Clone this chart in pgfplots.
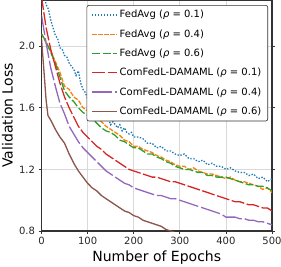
\documentclass[border=0pt]{standalone}
\usepackage{pgfplots}
\pgfplotsset{compat=1.18}
\usepackage{fontspec}
\setmainfont{DejaVu Sans}
\definecolor{c1}{HTML}{1F77B4}
\definecolor{c2}{HTML}{FF7F0E}
\definecolor{c3}{HTML}{2CA02C}
\definecolor{c4}{HTML}{D62728}
\definecolor{c5}{HTML}{9467BD}
\definecolor{c6}{HTML}{8C564B}
\begin{document}
\begin{tikzpicture}
\begin{axis}[name=ax,
  scale only axis, width=230.5pt, height=231pt,
  xmin=0, xmax=500, ymin=0.8, ymax=2.3,
  xtick={0,100,200,300,400,500}, xticklabels={0,100,200,300,400,500},
  ytick={0.8,1.2,1.6,2.0}, yticklabels={0.8,1.2,1.6,2.0},
  tick label style={font=\fontsize{10}{12}\selectfont, text=black!85},
  tick align=outside, major tick length=3pt,
  tick style={black!80, line width=0.8pt},
  xlabel={Number of Epochs}, ylabel={Validation Loss},
  label style={font=\fontsize{14}{16}\selectfont},
  xlabel style={at={(axis description cs:0.5,0)}, yshift=-27pt, anchor=center},
  ylabel style={at={(axis description cs:-0.1475,0.5)}, anchor=center},
  grid=major, grid style={gray!30, line width=0.7pt},
  axis line style={black!80, line width=1.6pt},
  legend style={at={(0.983,0.978)}, anchor=north east, draw=black!80, line width=0.6pt,
    rounded corners=2pt, font=\fontsize{10}{11.5}\selectfont, row sep=6.2pt,
    inner xsep=4.5pt, inner ysep=3pt},
  legend cell align=left,
  legend image code/.code={\draw[#1] (0pt,0pt) -- (25pt,0pt);},
  every axis plot/.append style={line width=1.3pt},
]
\addplot[c1, dash pattern=on 1.4pt off 1.6pt] coordinates {
(0,2.42)(5,2.36)(10,2.27)(15,2.24)(20,2.17)(25,2.12)(30,2.07)(35,2.05)(40,1.99)(45,1.98)
(50,1.94)(55,1.93)(60,1.89)(65,1.87)(70,1.85)(75,1.81)(80,1.84)(85,1.76)(90,1.72)(95,1.70)
(100,1.66)(105,1.68)(110,1.63)(115,1.62)(120,1.58)(125,1.59)(130,1.55)(135,1.56)(140,1.52)(145,1.53)
(150,1.49)(155,1.51)(160,1.49)(165,1.47)(170,1.49)(175,1.45)(180,1.47)(185,1.44)(190,1.43)(195,1.44)
(200,1.41)(210,1.41)(220,1.40)(230,1.37)(240,1.37)(250,1.34)(260,1.35)(270,1.32)(280,1.32)(290,1.30)
(300,1.29)(310,1.30)(320,1.27)(330,1.27)(340,1.25)(350,1.26)(360,1.23)(370,1.24)(380,1.22)(390,1.22)
(400,1.20)(410,1.21)(420,1.19)(430,1.18)(440,1.18)(450,1.16)(460,1.17)(470,1.14)(480,1.15)(490,1.12)(500,1.14)};
\addlegendentry{FedAvg (\textit{ρ} = 0.1)}
\addplot[c2, dash pattern=on 4.5pt off 1.5pt] coordinates {
(0,2.08)(10,2.02)(20,1.97)(30,1.90)(40,1.83)(50,1.74)(60,1.72)(70,1.67)(80,1.65)(90,1.60)
(100,1.58)(110,1.56)(120,1.53)(130,1.51)(140,1.48)(150,1.46)(160,1.44)(170,1.42)(180,1.39)(190,1.38)
(200,1.35)(210,1.35)(220,1.33)(230,1.32)(240,1.31)(250,1.29)(260,1.28)(270,1.26)(280,1.25)(290,1.23)
(300,1.22)(310,1.22)(320,1.20)(330,1.21)(340,1.19)(350,1.18)(360,1.17)(370,1.17)(380,1.16)(390,1.15)
(400,1.14)(410,1.15)(420,1.13)(430,1.12)(440,1.12)(450,1.11)(460,1.10)(470,1.09)(480,1.07)(490,1.08)(500,1.05)};
\addlegendentry{FedAvg (\textit{ρ} = 0.4)}
\addplot[c3, dash pattern=on 8pt off 2.5pt] coordinates {
(0,2.08)(10,2.03)(20,1.96)(30,1.89)(40,1.80)(50,1.71)(60,1.67)(70,1.64)(80,1.60)(90,1.57)
(100,1.55)(110,1.53)(120,1.50)(130,1.47)(140,1.45)(150,1.44)(160,1.42)(170,1.39)(180,1.38)(190,1.36)
(200,1.34)(210,1.34)(220,1.32)(230,1.30)(240,1.30)(250,1.28)(260,1.27)(270,1.25)(280,1.24)(290,1.22)
(300,1.21)(310,1.20)(320,1.20)(330,1.19)(340,1.18)(350,1.18)(360,1.16)(370,1.16)(380,1.15)(390,1.15)
(400,1.15)(410,1.14)(420,1.13)(430,1.12)(440,1.11)(450,1.10)(460,1.10)(470,1.09)(480,1.09)(490,1.08)(500,1.06)};
\addlegendentry{FedAvg (\textit{ρ} = 0.6)}
\addplot[c4, dash pattern=on 13pt off 2.5pt] coordinates {
(0,2.32)(10,2.12)(20,1.98)(30,1.87)(40,1.76)(50,1.67)(60,1.60)(70,1.54)(80,1.48)(90,1.44)
(100,1.41)(110,1.38)(120,1.35)(130,1.33)(140,1.30)(150,1.28)(160,1.26)(170,1.24)(180,1.22)(190,1.20)
(200,1.19)(210,1.18)(220,1.17)(230,1.16)(240,1.15)(250,1.15)(260,1.14)(270,1.13)(280,1.12)(290,1.12)
(300,1.11)(310,1.10)(320,1.09)(330,1.08)(340,1.07)(350,1.06)(360,1.05)(370,1.04)(380,1.03)(390,1.02)
(400,1.01)(410,1.00)(420,0.99)(430,0.99)(440,0.98)(450,0.97)(460,0.97)(470,0.96)(480,0.95)(490,0.95)(500,0.93)};
\addlegendentry{ComFedL-DAMAML (\textit{ρ} = 0.1)}
\addplot[c5, dash pattern=on 20pt off 3pt] coordinates {
(0,2.20)(10,2.02)(20,1.86)(30,1.74)(40,1.63)(50,1.56)(60,1.48)(70,1.43)(80,1.38)(90,1.34)
(100,1.31)(110,1.28)(120,1.25)(130,1.22)(140,1.19)(150,1.17)(160,1.15)(170,1.13)(180,1.11)(190,1.10)
(200,1.08)(210,1.07)(220,1.06)(230,1.05)(240,1.04)(250,1.03)(260,1.03)(270,1.02)(280,1.01)(290,1.01)
(300,1.00)(310,0.99)(320,0.98)(330,0.97)(340,0.96)(350,0.95)(360,0.94)(370,0.93)(380,0.92)(390,0.91)
(400,0.89)(410,0.89)(420,0.89)(430,0.88)(440,0.88)(450,0.87)(460,0.87)(470,0.86)(480,0.86)(490,0.85)(500,0.84)};
\addlegendentry{ComFedL-DAMAML (\textit{ρ} = 0.4)}
\addplot[c6] coordinates {
(0,2.05)(5,1.85)(10,1.65)(14,1.55)(20,1.52)(30,1.46)(40,1.41)(50,1.37)(60,1.30)(70,1.24)(80,1.19)(90,1.15)
(100,1.11)(110,1.08)(120,1.06)(130,1.03)(140,1.01)(150,0.99)(160,0.97)(170,0.95)(180,0.93)(190,0.92)
(200,0.90)(210,0.89)(220,0.87)(230,0.86)(240,0.85)(250,0.84)(260,0.83)(270,0.81)(280,0.80)(290,0.79)
(300,0.78)(350,0.74)(400,0.71)(450,0.68)(500,0.65)};
\addlegendentry{ComFedL-DAMAML (\textit{ρ} = 0.6)}
\end{axis}
\pgfresetboundingbox
\path[use as bounding box] ([shift={(-41.5pt,-35pt)}]ax.south west) rectangle ([shift={(9pt,0pt)}]ax.north east);
\end{tikzpicture}
\end{document}
